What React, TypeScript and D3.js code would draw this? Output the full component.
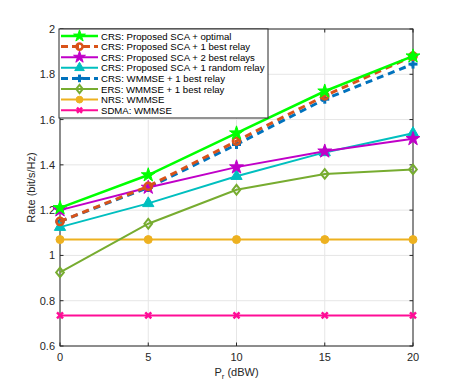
import React from "react";
import * as d3 from "d3";

const xs = [0, 5, 10, 15, 20];
const crsOptimal = [1.21, 1.355, 1.54, 1.725, 1.88];
const crsBest1 = [1.15, 1.305, 1.505, 1.705, 1.88];
const crsBest2 = [1.2, 1.3, 1.39, 1.46, 1.515];
const crsRandom = [1.125, 1.23, 1.35, 1.455, 1.54];
const wmmseBest1 = [1.15, 1.3, 1.49, 1.69, 1.845];
const ersWmmse = [0.925, 1.14, 1.29, 1.36, 1.38];
const nrsWmmse = [1.07, 1.07, 1.07, 1.07, 1.07];
const sdmaWmmse = [0.735, 0.735, 0.735, 0.735, 0.735];
const xTicks = [0, 5, 10, 15, 20];
const yTicks = [0.6, 0.8, 1, 1.2, 1.4, 1.6, 1.8, 2];

type Series = { name: string; values: number[]; color: string; dash?: string; marker: string; width: number };

const series: Series[] = [
  { name: "CRS: Proposed SCA + optimal", values: crsOptimal, color: "#00ff00", marker: "star", width: 2.5 },
  { name: "CRS: Proposed SCA + 1 best relay", values: crsBest1, color: "#D95319", dash: "7,5", marker: "circle", width: 3 },
  { name: "CRS: Proposed SCA + 2 best relays", values: crsBest2, color: "#C000C8", marker: "star", width: 2 },
  { name: "CRS: Proposed SCA + 1 random relay", values: crsRandom, color: "#00BFBF", marker: "triangle", width: 2 },
  { name: "CRS: WMMSE + 1 best relay", values: wmmseBest1, color: "#0072BD", dash: "7,5", marker: "plus", width: 3 },
  { name: "ERS: WMMSE + 1 best relay", values: ersWmmse, color: "#77AC30", marker: "diamond", width: 2 },
  { name: "NRS: WMMSE", values: nrsWmmse, color: "#EDB120", marker: "dot", width: 2 },
  { name: "SDMA: WMMSE", values: sdmaWmmse, color: "#FF0C96", marker: "x", width: 2 },
];

const left = 60, right = 413, top = 29, bottom = 346;
const FONT = "'Liberation Sans', Arial, Helvetica, sans-serif";

function Marker({ kind, x, y, color, scale = 1 }: { kind: string; x: number; y: number; color: string; scale?: number }) {
  const s = scale;
  if (kind === "star") {
    const p = d3.symbol(d3.symbolStar, 60 * s * s)();
    return <path d={p || ""} transform={`translate(${x},${y})`} fill={color} stroke={color} strokeWidth={1} />;
  }
  if (kind === "circle") {
    return <circle cx={x} cy={y} r={3.6 * s} fill="none" stroke={color} strokeWidth={2.5} />;
  }
  if (kind === "triangle") {
    const p = d3.symbol(d3.symbolTriangle, 55 * s * s)();
    return <path d={p || ""} transform={`translate(${x},${y})`} fill={color} stroke={color} strokeWidth={1} />;
  }
  if (kind === "plus") {
    const r = 4.5 * s;
    return (
      <g stroke={color} strokeWidth={3}>
        <line x1={x - r} x2={x + r} y1={y} y2={y} />
        <line x1={x} x2={x} y1={y - r} y2={y + r} />
      </g>
    );
  }
  if (kind === "diamond") {
    const r = 4.8 * s;
    return <path d={`M${x},${y - r}L${x + r * 0.8},${y}L${x},${y + r}L${x - r * 0.8},${y}Z`} fill="none" stroke={color} strokeWidth={2} />;
  }
  if (kind === "dot") {
    return <circle cx={x} cy={y} r={4 * s} fill={color} stroke={color} />;
  }
  if (kind === "x") {
    const r = 3 * s;
    return (
      <g stroke={color} strokeWidth={2.5}>
        <line x1={x - r} x2={x + r} y1={y - r} y2={y + r} />
        <line x1={x - r} x2={x + r} y1={y + r} y2={y - r} />
      </g>
    );
  }
  return null;
}

export default function App() {
  const xScale = d3.scaleLinear().domain([0, 20]).range([left, right]);
  const yScale = d3.scaleLinear().domain([0.6, 2]).range([bottom, top]);
  const line = d3
    .line<number>()
    .x((_, i) => xScale(xs[i]))
    .y((d) => yScale(d));

  const legX = 59, legY = 29, legW = 209, legH = 89;
  const rowH = 10.6;

  return (
    <svg width={457} height={390} style={{ position: "absolute", left: 0, top: 0, background: "#fff" }} fontFamily={FONT}>
      <rect x={0} y={0} width={457} height={390} fill="#fff" />
      {xTicks.map((t) => (
        <line key={"gx" + t} x1={xScale(t)} x2={xScale(t)} y1={top} y2={bottom} stroke="#e6e6e6" strokeWidth={1} />
      ))}
      {yTicks.map((t) => (
        <line key={"gy" + t} x1={left} x2={right} y1={yScale(t)} y2={yScale(t)} stroke="#e6e6e6" strokeWidth={1} />
      ))}
      <rect x={left} y={top} width={right - left} height={bottom - top} fill="none" stroke="#262626" strokeWidth={1} />
      {xTicks.map((t) => (
        <g key={"tx" + t}>
          <line x1={xScale(t)} x2={xScale(t)} y1={bottom} y2={bottom - 3.5} stroke="#262626" />
          <line x1={xScale(t)} x2={xScale(t)} y1={top} y2={top + 3.5} stroke="#262626" />
          <text x={xScale(t)} y={bottom + 15} textAnchor="middle" fontSize={11} fill="#262626">
            {t}
          </text>
        </g>
      ))}
      {yTicks.map((t) => (
        <g key={"ty" + t}>
          <line x1={left} x2={left + 3.5} y1={yScale(t)} y2={yScale(t)} stroke="#262626" />
          <line x1={right} x2={right - 3.5} y1={yScale(t)} y2={yScale(t)} stroke="#262626" />
          <text x={left - 5} y={yScale(t) + 4} textAnchor="end" fontSize={11} fill="#262626">
            {d3.format("~g")(t)}
          </text>
        </g>
      ))}
      <text transform={`translate(35,${(top + bottom) / 2}) rotate(-90)`} textAnchor="middle" fontSize={11} fill="#262626">
        Rate (bit/s/Hz)
      </text>
      <text x={(left + right) / 2} y={376} textAnchor="middle" fontSize={11} fill="#262626">
        P<tspan fontSize={8} dy={3}>r</tspan>
        <tspan dy={-3}> (dBW)</tspan>
      </text>
      {[...series].reverse().map((s) => (
        <g key={s.name}>
          <path d={line(s.values) || ""} fill="none" stroke={s.color} strokeWidth={s.width} strokeDasharray={s.dash} />
          {s.values.map((v, i) => (
            <Marker key={i} kind={s.marker} x={xScale(xs[i])} y={yScale(v)} color={s.color} />
          ))}
        </g>
      ))}
      <rect x={legX} y={legY} width={legW} height={legH} fill="#fff" stroke="#262626" strokeWidth={1} />
      {series.map((s, i) => {
        const y = legY + 6.5 + i * rowH + 0.5;
        return (
          <g key={"leg" + i}>
            <line x1={61} x2={98} y1={y} y2={y} stroke={s.color} strokeWidth={s.width} strokeDasharray={s.dash ? "7,4" : undefined} />
            <Marker kind={s.marker} x={79.5} y={y} color={s.color} scale={0.85} />
            <text x={101} y={y + 3.5} fontSize={9.6} fill="#000">
              {s.name}
            </text>
          </g>
        );
      })}
    </svg>
  );
}
